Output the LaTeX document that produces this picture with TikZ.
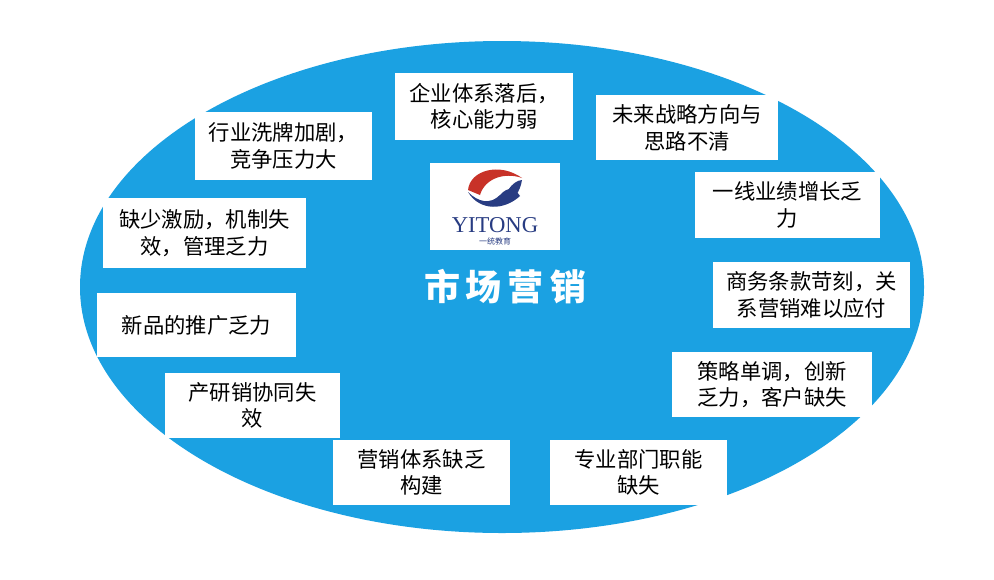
\documentclass[tikz,border=0pt]{standalone}
\usepackage{fontspec}
\newfontfamily\cjk{Noto Sans CJK SC}
\newfontfamily\serifx{Liberation Serif}
\definecolor{ellblue}{RGB}{27,161,226}
\definecolor{logored}{RGB}{200,50,40}
\definecolor{logoblue}{RGB}{40,60,130}
\begin{document}
\begin{tikzpicture}[x=0.75pt,y=-0.75pt]
\tikzset{wbox/.style={fill=white,draw=none,font=\cjk\fontsize{16}{20}\selectfont,align=center,inner sep=0pt}}
\useasboundingbox (0,0) rectangle (994,579);
\fill[white] (0,0) rectangle (994,579);
\fill[ellblue] (502,287) ellipse [x radius=422, y radius=246];
\newcommand{\bx}[6]{\fill[white] (#2,#3) rectangle (#4,#5); \node[wbox] (#1) at ({(#2+#4)/2},{(#3+#5)/2}) {#6};}
\bx{a}{395}{73}{573}{140}{企业体系落后，\\核心能力弱}
\bx{b}{596}{95}{778}{160}{未来战略方向与\\思路不清}
\bx{c}{195}{112}{372}{180}{行业洗牌加剧，\\竞争压力大}
\bx{d}{695}{172}{880}{238}{一线业绩增长乏\\力}
\bx{e}{103}{198}{306}{268}{缺少激励，机制失\\效，管理乏力}
\bx{f}{713}{262}{910}{328}{商务条款苛刻，关\\系营销难以应付}
\bx{g}{97}{293}{296}{357}{新品的推广乏力}
\bx{h}{672}{352}{872}{417}{策略单调，创新\\乏力，客户缺失}
\bx{i}{165}{373}{340}{438}{产研销协同失\\效}
\bx{j}{333}{440}{510}{505}{营销体系缺乏\\构建}
\bx{k}{550}{440}{727}{505}{专业部门职能\\缺失}
% logo
\fill[white] (430,163) rectangle (560,250);
\fill[logored] (468,190) .. controls (470,170) and (500,162) .. (522,178) .. controls (505,172) and (485,178) .. (480,195) -- cycle;
\fill[logoblue] (468,192) .. controls (480,212) and (505,210) .. (520,196) .. controls (515,188) and (508,186) .. (500,195) .. controls (490,205) and (478,202) .. (468,192) -- cycle;
\fill[logoblue] (505,196) .. controls (510,184) and (518,180) .. (522,180) .. controls (520,192) and (514,200) .. (505,204) -- cycle;
\node[font=\serifx\fontsize{17}{17}\selectfont,text=logoblue,inner sep=0pt] (logo) at (495,225) {YITONG};
\node[font=\cjk\fontsize{6}{6}\selectfont,text=logoblue,inner sep=0pt] (logosub) at (495,241) {一统教育};
\node[font=\cjk\bfseries\fontsize{27}{30}\selectfont,text=white,inner sep=0pt] (title) at (505,287) {市\,场\,营\,销};
\end{tikzpicture}
\end{document}
